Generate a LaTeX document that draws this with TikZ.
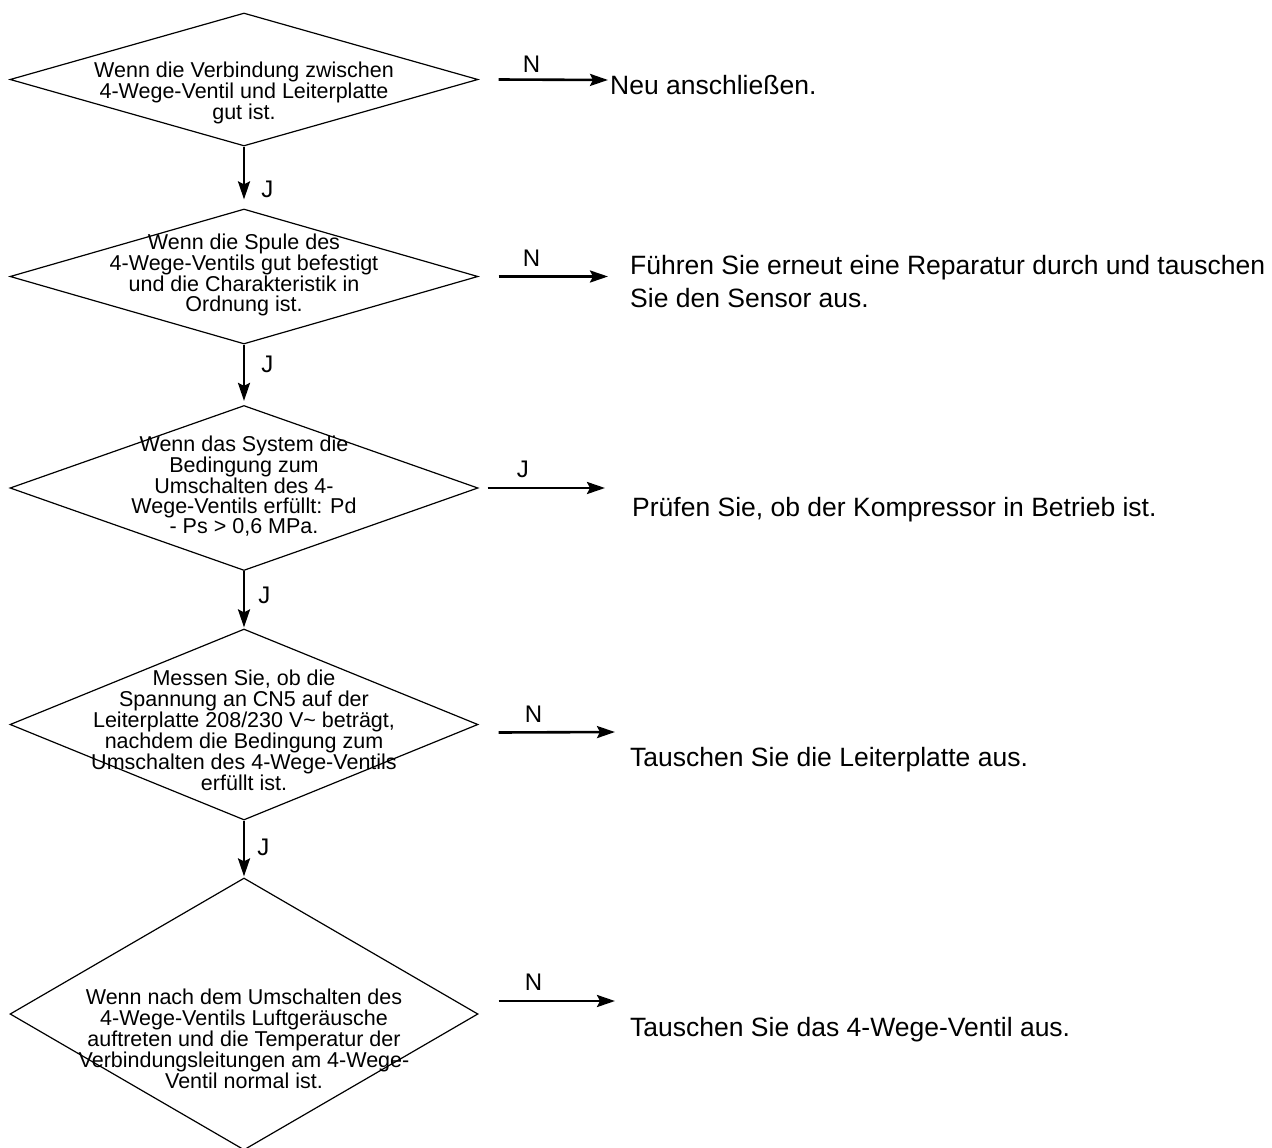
\documentclass[tikz,border=0pt]{standalone}
\usepackage{fontspec}
\setmainfont{Liberation Sans}
\usetikzlibrary{shapes.geometric,arrows.meta}

\begin{document}
\begin{tikzpicture}[x=1pt, y=-1pt,
  cond/.style={draw, shape=diamond, line width=1.2pt, minimum width=468pt, inner sep=0pt},
  condtext/.style={align=center, inner sep=0pt, font=\fontsize{21.5}{20}\selectfont},
  todo/.style={anchor=base west, align=left, inner sep=0pt, font=\fontsize{26.5}{33}\selectfont},
  flow/.style={line width=2.6pt, -{Stealth[length=18pt,width=12pt,inset=3pt]}},
  yn/.style={inner sep=0pt, font=\fontsize{24}{24}\selectfont}]
\useasboundingbox (0,0) rectangle (1272,1148);

% decisions
\node[cond, minimum height=133pt] (c1) at (244,79.5) {};
\node[condtext] (c1t) at (244,93) {Wenn die Verbindung zwischen\\4-Wege-Ventil und Leiterplatte\\gut ist.};
\node[cond, minimum height=135pt] (c2) at (244,276.5) {};
\node[condtext] (c2t) at (244,275) {Wenn die Spule des\\4-Wege-Ventils gut befestigt\\und die Charakteristik in\\Ordnung ist.};
\node[cond, minimum height=165pt] (c3) at (244,488) {};
\node[condtext] (c3t) at (244,486) {Wenn das System die\\Bedingung zum\\Umschalten des 4-\\Wege-Ventils erfüllt: Pd\\- Ps > 0,6 MPa.};
\node[cond, minimum height=191pt] (c4) at (244,724.5) {};
\node[condtext, font=\fontsize{21.5}{21}\selectfont] (c4t) at (244,730) {Messen Sie, ob die\\Spannung an CN5 auf der\\Leiterplatte 208/230 V\textasciitilde{} beträgt,\\nachdem die Bedingung zum\\Umschalten des 4-Wege-Ventils\\erfüllt ist.};
\node[cond, minimum height=272pt] (c5) at (244,1014) {};
\node[condtext, font=\fontsize{21.5}{21}\selectfont] (c5t) at (244,1039) {Wenn nach dem Umschalten des\\4-Wege-Ventils Luftgeräusche\\auftreten und die Temperatur der\\Verbindungsleitungen am 4-Wege-\\Ventil normal ist.};

% actions
\node[todo] (r1) at (610,95) {Neu anschließen.};
\node[todo] (r2) at (630,307) {Führen Sie erneut eine Reparatur durch und tauschen\\Sie den Sensor aus.};
\node[todo] (r3) at (632,516) {Prüfen Sie, ob der Kompressor in Betrieb ist.};
\node[todo] (r4) at (630,766) {Tauschen Sie die Leiterplatte aus.};
\node[todo] (r5) at (630,1036) {Tauschen Sie das 4-Wege-Ventil aus.};

% arrow ends on the right
\coordinate (e1) at (608,80);
\coordinate (e2) at (608,276.5);
\coordinate (e3) at (605,488);
\coordinate (e4) at (615,732);
\coordinate (e5) at (615,1001);

\draw[flow, shorten >=9pt] (c1.south) -- node[yn, pos=0.7, right=16pt] {J} (c2.north);
\draw[flow, shorten >=4pt] (c2.south) -- node[yn, pos=0.33, right=16pt] {J} (c3.north);
\draw[flow, shorten >=1pt] (c3.south) -- node[yn, pos=0.42, right=13pt] {J} (c4.north);
\draw[flow, shorten >=1pt] (c4.south) -- node[yn, pos=0.47, right=12pt] {J} (c5.north);

\draw[flow] ([xshift=20pt]c1.east) -- node[yn, pos=0.3, above=6pt] {N} (e1);
\draw[flow] ([xshift=20pt]c2.east) -- node[yn, pos=0.3, above=9pt] {N} (e2);
\draw[flow] ([xshift=9pt]c3.east) -- node[yn, pos=0.3, above=9pt] {J} (e3);
\draw[flow] ([xshift=20pt,yshift=-8pt]c4.east) -- node[yn, pos=0.3, above=9pt] {N} (e4);
\draw[flow] ([xshift=20pt,yshift=13pt]c5.east) -- node[yn, pos=0.3, above=9pt] {N} (e5);
\end{tikzpicture}
\end{document}
